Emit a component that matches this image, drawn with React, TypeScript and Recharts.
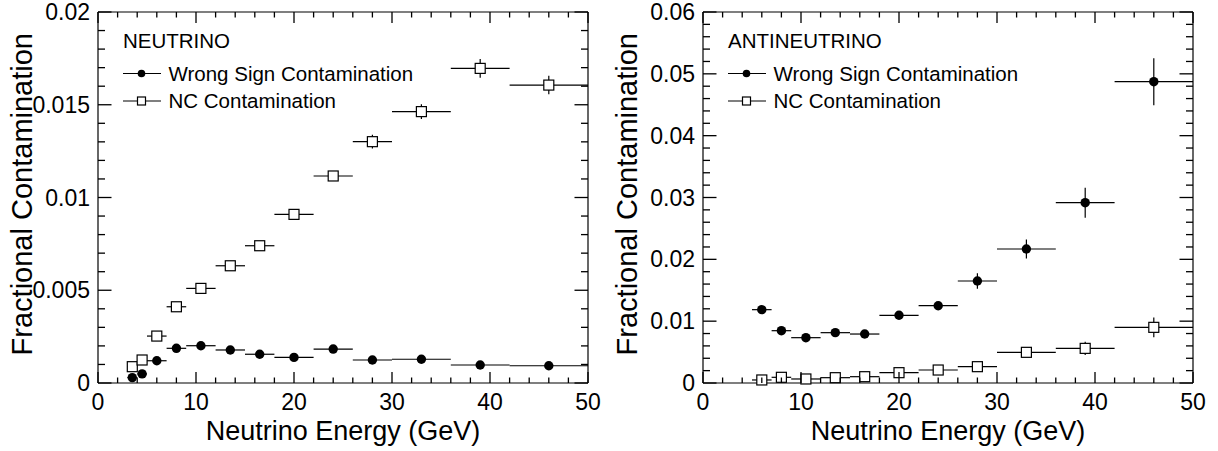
import React from 'react';
import { ScatterChart, Scatter, XAxis, YAxis, ErrorBar } from 'recharts';

const FONT = '"Liberation Sans", Arial, Helvetica, sans-serif';

// neutrino panel: bin centres / half widths (GeV) and fractions
const NU_E = [3.5, 4.5, 6, 8, 10.5, 13.5, 16.5, 20, 24, 28, 33, 39, 46];
const NU_DE = [0.5, 0.5, 1, 1, 1.5, 1.5, 1.5, 2, 2, 2, 3, 3, 4];
const NU_WS = [0.00029, 0.00049, 0.0012, 0.00187, 0.00201, 0.00178, 0.00155, 0.00138, 0.00183, 0.00124, 0.00128, 0.00097, 0.00093];
const NU_WS_ERR = [0.00004, 0.00005, 0.00006, 0.00007, 0.00007, 0.00007, 0.00007, 0.00007, 0.00009, 0.00009, 0.0001, 0.0001, 0.0001];
const NU_NC = [0.00088, 0.00124, 0.00253, 0.00411, 0.0051, 0.00632, 0.0074, 0.00909, 0.01116, 0.01301, 0.01463, 0.01696, 0.01606];
const NU_NC_ERR = [0.00005, 0.00006, 0.00008, 0.0001, 0.0001, 0.00012, 0.00013, 0.00016, 0.00025, 0.00037, 0.0004, 0.0005, 0.0005];

// antineutrino panel
const ANU_E = [6, 8, 10.5, 13.5, 16.5, 20, 24, 28, 33, 39, 46];
const ANU_DE = [1, 1, 1.5, 1.5, 1.5, 2, 2, 2, 3, 3, 4];
const ANU_WS = [0.01186, 0.00846, 0.00733, 0.00814, 0.00792, 0.01095, 0.0125, 0.0165, 0.02167, 0.02916, 0.04873];
const ANU_WS_ERR = [0.0005, 0.0004, 0.0004, 0.0004, 0.0004, 0.0005, 0.0006, 0.00124, 0.00154, 0.00243, 0.0038];
const ANU_NC = [0.00049, 0.00092, 0.00065, 0.00086, 0.00102, 0.00167, 0.0021, 0.00264, 0.00496, 0.0056, 0.009];
const ANU_NC_ERR = [0.0002, 0.0002, 0.0002, 0.0002, 0.0002, 0.0003, 0.0003, 0.0004, 0.0006, 0.00108, 0.0016];

// axes
const X_MAX = 50;
const X_TICKS = [0, 2, 4, 6, 8, 10, 12, 14, 16, 18, 20, 22, 24, 26, 28, 30, 32, 34, 36, 38, 40, 42, 44, 46, 48, 50];
const X_MAJOR = [0, 10, 20, 30, 40, 50];
const NU_Y_TICKS = [0, 0.001, 0.002, 0.003, 0.004, 0.005, 0.006, 0.007, 0.008, 0.009, 0.01, 0.011, 0.012, 0.013, 0.014, 0.015, 0.016, 0.017, 0.018, 0.019, 0.02];
const NU_Y_MAJOR = [0, 0.005, 0.01, 0.015, 0.02];
const ANU_Y_TICKS = [0, 0.002, 0.004, 0.006, 0.008, 0.01, 0.012, 0.014, 0.016, 0.018, 0.02, 0.022, 0.024, 0.026, 0.028, 0.03, 0.032, 0.034, 0.036, 0.038, 0.04, 0.042, 0.044, 0.046, 0.048, 0.05, 0.052, 0.054, 0.056, 0.058, 0.06];
const ANU_Y_MAJOR = [0, 0.01, 0.02, 0.03, 0.04, 0.05, 0.06];

const W = 609;
const H = 451;
const TOP = 12;
const BOTTOM = 383;
const TW = 1.3; // tick thickness

const isMajor = (v: number, majors: number[]) => majors.some((m) => Math.abs(m - v) < 1e-9);

const rows = (e: number[], de: number[], y: number[], ey: number[]) =>
  e.map((x, i) => ({ x, y: y[i], ex: de[i], ey: ey[i] }));

const Dot = (p: any) => <circle cx={p.cx} cy={p.cy} r={4.7} fill="#000" />;
const Box = (p: any) => (
  <rect x={p.cx - 5} y={p.cy - 5} width={10} height={10} fill="#fff" stroke="#000" strokeWidth={1.2} />
);

function Panel({
  energies, halfWidths, ws, wsErr, nc, ncErr, yTicks, yMajor, yMax, title, left, right,
}: {
  energies: number[]; halfWidths: number[]; ws: number[]; wsErr: number[]; nc: number[]; ncErr: number[];
  yTicks: number[]; yMajor: number[]; yMax: number; title: string; left: number; right: number;
}) {
  const wsRows = rows(energies, halfWidths, ws, wsErr);
  const ncRows = rows(energies, halfWidths, nc, ncErr);
  const plotRight = W - right - 1;
  const cx = (left + plotRight) / 2;
  const lx = left + 25;
  const tx = (v: number) => left + (v / X_MAX) * (plotRight - left);
  const ty = (v: number) => BOTTOM - (v / yMax) * (BOTTOM - TOP);

  const bottomTick = (p: any) =>
    isMajor(p.payload.value, X_MAJOR) ? (
      <text x={p.x} y={p.y + 27} textAnchor="middle" fontSize={23} fontFamily={FONT} fill="#000">
        {p.payload.value}
      </text>
    ) : (
      <g />
    );
  const leftTick = (p: any) =>
    isMajor(p.payload.value, yMajor) ? (
      <text x={p.x - 8} y={p.y + 8} textAnchor="end" fontSize={23} fontFamily={FONT} fill="#000">
        {String(p.payload.value)}
      </text>
    ) : (
      <g />
    );

  const common = { type: 'number' as const, tickSize: 0, tickMargin: 0, tickLine: false, interval: 0 as const, axisLine: { stroke: '#000', strokeWidth: 1.2 } };

  return (
    <div style={{ position: 'relative', width: W, height: H }}>
      <ScatterChart width={W} height={H} margin={{ top: TOP - 1, right, bottom: 0, left: 0 }}>
        <XAxis {...common} xAxisId="b" dataKey="x" domain={[0, X_MAX]} ticks={X_TICKS} height={H - BOTTOM} tick={bottomTick} />
        <XAxis {...common} xAxisId="t" orientation="top" dataKey="x" domain={[0, X_MAX]} height={1} tick={false} />
        <YAxis {...common} yAxisId="l" dataKey="y" domain={[0, yMax]} ticks={yTicks} width={left} tick={leftTick} />
        <YAxis {...common} yAxisId="r" orientation="right" dataKey="y" domain={[0, yMax]} width={1} tick={false} />
        <Scatter xAxisId="b" yAxisId="l" data={ncRows} shape={Box} isAnimationActive={false}>
          <ErrorBar dataKey="ex" direction="x" width={0} stroke="#000" strokeWidth={1.2} isAnimationActive={false} />
          <ErrorBar dataKey="ey" direction="y" width={0} stroke="#000" strokeWidth={1.2} isAnimationActive={false} />
        </Scatter>
        <Scatter xAxisId="b" yAxisId="l" data={wsRows} shape={Dot} isAnimationActive={false}>
          <ErrorBar dataKey="ex" direction="x" width={0} stroke="#000" strokeWidth={1.2} isAnimationActive={false} />
          <ErrorBar dataKey="ey" direction="y" width={0} stroke="#000" strokeWidth={1.2} isAnimationActive={false} />
        </Scatter>
      </ScatterChart>
      <svg width={W} height={H} style={{ position: 'absolute', left: 0, top: 0, zIndex: 2, pointerEvents: 'none' }}>
        {/* inward ticks on all four sides, as thin filled rects */}
        {X_TICKS.map((v) => {
          const len = isMajor(v, X_MAJOR) ? 11 : 5.5;
          return (
            <g key={'x' + v} fill="#000">
              <rect x={tx(v) - TW / 2} y={BOTTOM - len} width={TW} height={len} />
              <rect x={tx(v) - TW / 2} y={TOP} width={TW} height={len} />
            </g>
          );
        })}
        {yTicks.map((v) => {
          const len = isMajor(v, yMajor) ? 13.5 : 7;
          return (
            <g key={'y' + v} fill="#000">
              <rect x={left} y={ty(v) - TW / 2} width={len} height={TW} />
              <rect x={plotRight - len} y={ty(v) - TW / 2} width={len} height={TW} />
            </g>
          );
        })}
        <text x={lx} y={48} fontSize={20.5} fontFamily={FONT} fill="#000">{title}</text>
        <line x1={lx} x2={lx + 38} y1={73.5} y2={73.5} stroke="#000" strokeWidth={1.2} />
        <circle cx={lx + 18.5} cy={73.5} r={3.8} fill="#000" />
        <text x={lx + 45.5} y={80.5} fontSize={20.5} fontFamily={FONT} fill="#000">Wrong Sign Contamination</text>
        <line x1={lx} x2={lx + 38} y1={101} y2={101} stroke="#000" strokeWidth={1.2} />
        <rect x={lx + 14.5} y={97} width={8} height={8} fill="#fff" stroke="#000" strokeWidth={1.2} />
        <text x={lx + 45.5} y={108} fontSize={20.5} fontFamily={FONT} fill="#000">NC Contamination</text>
        <text x={cx} y={440} textAnchor="middle" fontSize={27} fontFamily={FONT} fill="#000">Neutrino Energy (GeV)</text>
        <text
          x={left - 66}
          y={33}
          transform={`rotate(-90 ${left - 66} 33)`}
          textAnchor="end"
          fontSize={29}
          fontFamily={FONT}
          fill="#000"
        >
          Fractional Contamination
        </text>
      </svg>
    </div>
  );
}

export default function App() {
  return (
    <div style={{ position: 'absolute', left: 0, top: 0, width: 1218, height: H, display: 'flex', background: '#fff' }}>
      <Panel energies={NU_E} halfWidths={NU_DE} ws={NU_WS} wsErr={NU_WS_ERR} nc={NU_NC} ncErr={NU_NC_ERR}
        yTicks={NU_Y_TICKS} yMajor={NU_Y_MAJOR} yMax={0.02} title="NEUTRINO" left={98} right={20} />
      <Panel energies={ANU_E} halfWidths={ANU_DE} ws={ANU_WS} wsErr={ANU_WS_ERR} nc={ANU_NC} ncErr={ANU_NC_ERR}
        yTicks={ANU_Y_TICKS} yMajor={ANU_Y_MAJOR} yMax={0.06} title="ANTINEUTRINO" left={94} right={24} />
    </div>
  );
}
